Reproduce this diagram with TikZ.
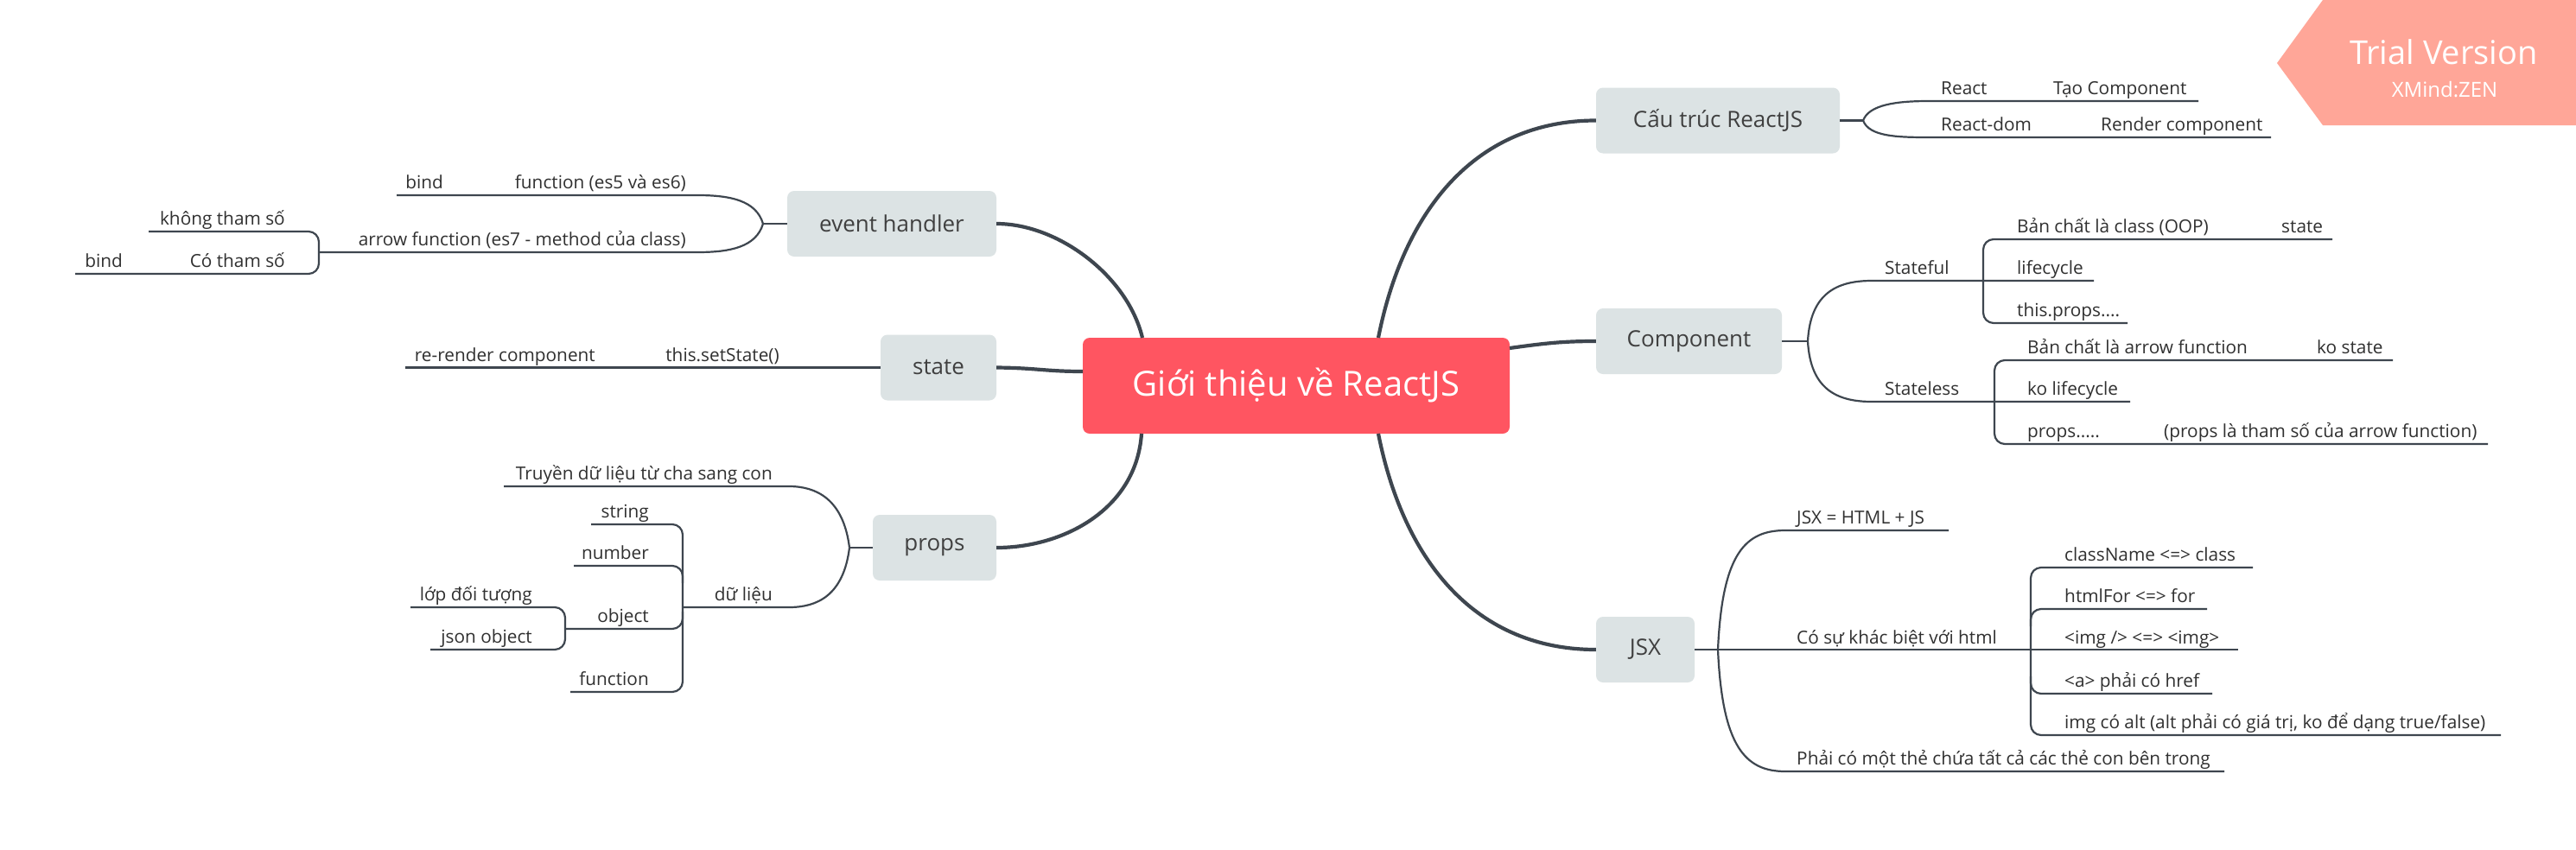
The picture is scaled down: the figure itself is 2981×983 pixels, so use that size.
\documentclass[tikz,border=0pt]{standalone}
\usepackage{fontspec}
\setmainfont{Open Sans}
\definecolor{linecol}{RGB}{62,70,79}
\definecolor{topicfill}{RGB}{220,227,228}
\definecolor{rootfill}{RGB}{255,85,97}
\definecolor{topictext}{RGB}{64,64,64}
\definecolor{leaftext}{RGB}{48,48,48}
\definecolor{trialfill}{RGB}{255,166,152}
\begin{document}
\begin{tikzpicture}
[x=1pt,y=-1pt,
  rootdecorate/.style={shape=rectangle,rounded corners=8pt,fill=rootfill,text=white,%
    minimum width=494pt,minimum height=111pt,font=\fontsize{40}{48}\selectfont},%
  topicdecorate/.style={shape=rectangle,rounded corners=8pt,fill=topicfill,text=topictext,%
    minimum height=76pt,inner xsep=30pt,font=\fontsize{26}{31}\selectfont},%
  leafleft/.style={anchor=base east,inner sep=0pt,text=leaftext,font=\fontsize{20.8}{24}\selectfont},%
  leafright/.style={leafleft,anchor=base west},%
  mainline/.style={-,line width=4.2pt,draw=linecol},%
  subline/.style={-,line width=2.2pt,draw=linecol},%
  bracketline/.style={subline,rounded corners=12pt}]
\useasboundingbox (0,0) rectangle (2981,983);
\fill[white] (0,0) rectangle (2981,983);
%% central topic and main topics
\node (root) at (1500,446.5) [rootdecorate] {Giới thiệu về ReactJS};
\foreach \nodename/\x/\y/\w/\txt in {ev/1032/259/242/event handler, st/1086/425.5/134/state,
    pr/1081.5/634/143/props, ct/1988/139.5/282/Cấu trúc ReactJS,
    cp/1954.5/395/215/Component, jx/1904/752/114/JSX} {
  \node (\nodename) at (\x,\y) [topicdecorate,minimum width=\w pt] {\txt};
}
%% where the main lines meet the central topic
\coordinate (rootTL) at (1322,391);
\coordinate (rootBL) at (1321,502);
\coordinate (rootTR) at (1595,391);
\coordinate (rootBR) at (1595,502);
\coordinate (rootL) at (1253,430);
\coordinate (rootR) at (1747,403);
%% main lines
\draw[mainline] (ev.east) .. controls (1225,259) and (1305,320) .. (rootTL);
\draw[mainline] (st.east) .. controls (1200,426) and (1210,430) .. (rootL);
\draw[mainline] (pr.east) .. controls (1230,634) and (1315,590) .. (rootBL);
\draw[mainline] (rootTR) .. controls (1625,240) and (1710,139.5) .. (ct.west);
\draw[mainline] (rootR) .. controls (1790,397) and (1810,395) .. (cp.west);
\draw[mainline] (rootBR) .. controls (1625,653) and (1710,752) .. (jx.west);
%% joints
\coordinate (evj) at (883,259);
\coordinate (prj) at (983,634);
\coordinate (ctj) at (2156,139.5);
\coordinate (cpj) at (2092,395);
\coordinate (jxj) at (1988,752);
%% left branches
\draw[subline] (ev.west) -- (evj);
\draw[subline] (evj) .. controls (875,232) and (845,226) .. (807,226) -- (459,226);
\draw[subline] (evj) .. controls (875,286) and (845,292) .. (807,292) -- (369,292);
\draw[bracketline] (172,268) -- (369,268) -- (369,317) -- (87,317);
\draw[subline] (st.west) -- (469,425.5);
\draw[subline] (pr.west) -- (prj);
\draw[subline] (prj) .. controls (976,578) and (945,563) .. (913,563) -- (583,563);
\draw[subline] (prj) .. controls (976,690) and (945,703) .. (913,703) -- (790,703);
\draw[bracketline] (684,607) -- (790,607) -- (790,801) -- (660,801);
\draw[bracketline] (664,655) -- (790,655) -- (790,675);
\draw[bracketline] (654,728) -- (790,728) -- (790,708);
\draw[bracketline] (475,703) -- (654,703) -- (654,752) -- (498,752);
%% right branches
\draw[subline] (ct.east) -- (ctj);
\draw[subline] (ctj) .. controls (2163,121) and (2195,117) .. (2232,117) -- (2544,117);
\draw[subline] (ctj) .. controls (2163,158) and (2195,159) .. (2232,159) -- (2628,159);
\draw[subline] (cp.east) -- (cpj);
\draw[subline] (cpj) .. controls (2095,340) and (2125,325) .. (2166,325) -- (2423,325);
\draw[subline] (cpj) .. controls (2095,450) and (2125,465) .. (2166,465) -- (2465,465);
\draw[bracketline] (2699,277) -- (2295,277) -- (2295,374) -- (2462,374);
\draw[bracketline] (2769,417) -- (2308,417) -- (2308,514) -- (2879,514);
\draw[subline] (jx.east) -- (jxj) -- (2590,752);
\draw[subline] (jxj) .. controls (1993,640) and (2020,614) .. (2066,614) -- (2255,614);
\draw[subline] (jxj) .. controls (1993,865) and (2020,893) .. (2066,893) -- (2574,893);
\draw[bracketline] (2607,657) -- (2350,657) -- (2350,851) -- (2894,851);
\draw[bracketline] (2554,705) -- (2350,705) -- (2350,725);
\draw[bracketline] (2560,803) -- (2350,803) -- (2350,783);
%% labels on the left
\foreach \nodename/\x/\y/\txt in {bindA/513/218/bind, fnes/794/218/function (es5 và es6),
    arrowfn/794/284/arrow function (es7 - method của class), kothamso/330/260/không tham số,
    cothamso/330/309/Có tham số, bindB/142/309/bind, rerender/689/418/re-render component,
    setstate/902/418/this.setState(), truyen/894/555/Truyền dữ liệu từ cha sang con,
    dulieu/894/695/dữ liệu, dlstring/751/599/string, dlnumber/751/647/number,
    dlobject/751/720/object, dlfunction/751/793/function,
    lopdoituong/616/695/lớp đối tượng, jsonobj/616/744/json object} {
  \node (\nodename) at (\x,\y) [leafleft] {\txt};
}
%% labels on the right
\foreach \nodename/\x/\y/\txt in {react/2246/109/React, taocomp/2376/109/Tạo Component,
    reactdom/2246/151/React-dom, rendercomp/2431/151/Render component,
    stateful/2181/317/Stateful, stateless/2181/457/Stateless,
    banchatclass/2334/269/Bản chất là class (OOP), sfstate/2640/269/state,
    sflife/2334/317/lifecycle, sfprops/2334/366/{this.props....},
    banchatarrow/2346/409/Bản chất là arrow function, slstate/2681/409/ko state,
    sllife/2346/457/ko lifecycle, slprops/2346/506/{props.....},
    slnote/2504/506/{(props là tham số của arrow function)},
    jsxeq/2079/606/JSX = HTML + JS, khacbiet/2079/745/Có sự khác biệt với html,
    motthe/2079/885/Phải có một thẻ chứa tất cả các thẻ con bên trong,
    classname/2389/649/className <=> class, htmlfor/2389/697/htmlFor <=> for,
    imgtag/2389/745/{<img /> <=> <img>}, atag/2389/795/<a> phải có href,
    imgalt/2389/843/{img có alt (alt phải có giá trị, ko để dạng true/false)}} {
  \node (\nodename) at (\x,\y) [leafright] {\txt};
}
%% trial badge
\fill[trialfill] (2635,73) -- (2688,0) -- (2981,0) -- (2981,145) -- (2688,145) -- cycle;
\node (trial) at (2828,74) [anchor=base,inner sep=0pt,text=white,font=\fontsize{38}{44}\selectfont] {Trial Version};
\node (zen) at (2829,112) [anchor=base,inner sep=0pt,text=white,font=\fontsize{24}{28}\selectfont] {XMind:ZEN};
\end{tikzpicture}
\end{document}
